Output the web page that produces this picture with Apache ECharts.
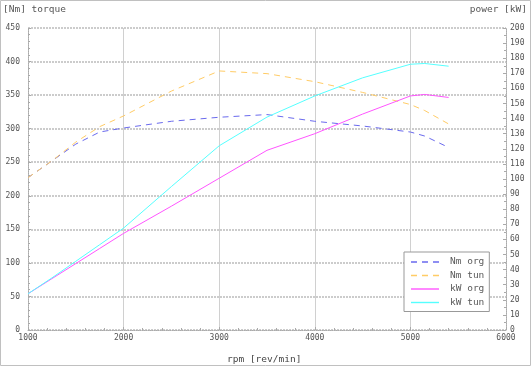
<!DOCTYPE html>
<html><head><meta charset="utf-8">
<script src="https://cdn.jsdelivr.net/npm/echarts@6/dist/echarts.min.js"></script>
<style>html,body{margin:0;padding:0;background:#fff}#c{width:532px;height:367px}</style>
</head><body><div id="c"></div>
<script>
// data
const rpm = [1000, 1250, 1500, 1750, 2000, 2500, 3000, 3500, 4000, 4500, 5000, 5150, 5400];
const nmOrg = [227, 252, 277, 295, 301, 311, 317, 321, 311, 304, 295, 289, 272];
const nmTun = [227, 252, 280, 303, 319, 356, 386, 382, 370, 354, 336, 327, 307];
const kwOrg = [24, 34, 44, 54, 64, 82, 100.5, 119, 130, 143, 155, 156, 154];
const kwTun = [24, 34.5, 45.5, 56.5, 67.5, 95, 122, 141, 155, 167, 176, 176.5, 174.7];
const seriesNames = ['Nm org', 'Nm tun', 'kW org', 'kW tun'];
const leftTicks = {min: 0, max: 450, step: 50};
const rightTicks = {min: 0, max: 200, step: 10};
const xTicks = {min: 1000, max: 6000, step: 1000};

const pair = (ys) => rpm.map((r, i) => [r, ys[i]]);
const mono = 'DejaVu Sans Mono';
const dashIcon = 'path://M0,0h6v1.4h-6zM11,0h6v1.4h-6zM22,0h6v1.4h-6z';
const solidIcon = 'path://M0,0h28v1.4h-28z';
const chart = echarts.init(document.getElementById('c'), null, {renderer: 'canvas'});
chart.setOption({
  animation: false,
  backgroundColor: '#fff',
  grid: {left: 28, right: 26, top: 28, bottom: 37, containLabel: false},
  graphic: [
    {type: 'rect', shape: {x: 0.5, y: 0.5, width: 530, height: 365}, style: {fill: 'none', stroke: '#c0c0c0', lineWidth: 1}, silent: true},
    {type: 'text', left: 3, top: 5, style: {text: '[Nm] torque', font: '9.5px "DejaVu Sans Mono"', fill: '#555'}},
    {type: 'text', right: 5, top: 5, style: {text: 'power [kW]', font: '9.5px "DejaVu Sans Mono"', fill: '#555'}},
    {type: 'text', left: 227, top: 355, style: {text: 'rpm [rev/min]', font: '9.5px "DejaVu Sans Mono"', fill: '#444'}}
  ],
  legend: {
    orient: 'vertical', left: 404, top: 252, padding: [5, 5, 4, 7],
    itemWidth: 28, itemHeight: 1.4, itemGap: 3.5,
    borderColor: '#999', borderWidth: 1, backgroundColor: '#fff',
    data: [
      {name: seriesNames[0], icon: dashIcon},
      {name: seriesNames[1], icon: dashIcon},
      {name: seriesNames[2], icon: solidIcon},
      {name: seriesNames[3], icon: solidIcon}
    ],
    textStyle: {fontFamily: mono, fontSize: 9.5, lineHeight: 10, color: '#5a5a5a', padding: [0, 0, 0, 6]}
  },
  xAxis: {
    type: 'value', min: xTicks.min, max: xTicks.max, interval: xTicks.step,
    axisLine: {show: true, lineStyle: {color: '#aaa', type: 'dotted'}},
    axisTick: {show: true, inside: true, length: 3, lineStyle: {color: '#aaa'}},
    minorTick: {show: true, splitNumber: 5, length: 2, lineStyle: {color: '#aaa'}},
    axisLabel: {fontFamily: mono, fontSize: 8, color: '#555', margin: 4, formatter: (v) => String(v)},
    splitLine: {show: true, lineStyle: {color: '#d0d0d0', width: 1, type: 'solid'}}
  },
  yAxis: [
    {
      type: 'value', min: leftTicks.min, max: leftTicks.max, interval: leftTicks.step,
      axisLine: {show: true, lineStyle: {color: '#aaa', type: 'dotted'}},
      axisTick: {show: true, inside: true, length: 3, lineStyle: {color: '#aaa'}},
      minorTick: {show: true, splitNumber: 5, length: 2, lineStyle: {color: '#aaa'}},
      axisLabel: {fontFamily: mono, fontSize: 8, color: '#555', margin: 8, formatter: (v) => String(v)},
      splitLine: {show: true, lineStyle: {color: '#cccccc', width: 2, type: [2, 1]}}
    },
    {
      type: 'value', position: 'right', min: rightTicks.min, max: rightTicks.max, interval: rightTicks.step,
      axisLine: {show: true, lineStyle: {color: '#aaa', type: 'dotted'}},
      axisTick: {show: true, inside: true, length: 3, lineStyle: {color: '#aaa'}},
      minorTick: {show: true, splitNumber: 2, length: 2, lineStyle: {color: '#aaa'}},
      axisLabel: {fontFamily: mono, fontSize: 8, color: '#555', margin: 4, formatter: (v) => String(v)},
      splitLine: {show: false}
    }
  ],
  series: [
    {name: seriesNames[0], type: 'line', yAxisIndex: 0, data: pair(nmOrg), symbol: 'none',
     lineStyle: {color: '#6a6aee', width: 1, type: [6, 5]}, itemStyle: {color: '#6a6aee'}},
    {name: seriesNames[1], type: 'line', yAxisIndex: 0, data: pair(nmTun), symbol: 'none',
     lineStyle: {color: '#ffcc66', width: 1, type: [6, 5]}, itemStyle: {color: '#ffcc66'}},
    {name: seriesNames[2], type: 'line', yAxisIndex: 1, data: pair(kwOrg), symbol: 'none',
     lineStyle: {color: '#ff55ff', width: 1}, itemStyle: {color: '#ff55ff'}},
    {name: seriesNames[3], type: 'line', yAxisIndex: 1, data: pair(kwTun), symbol: 'none',
     lineStyle: {color: '#55ffff', width: 1}, itemStyle: {color: '#55ffff'}}
  ]
});
</script></body></html>
